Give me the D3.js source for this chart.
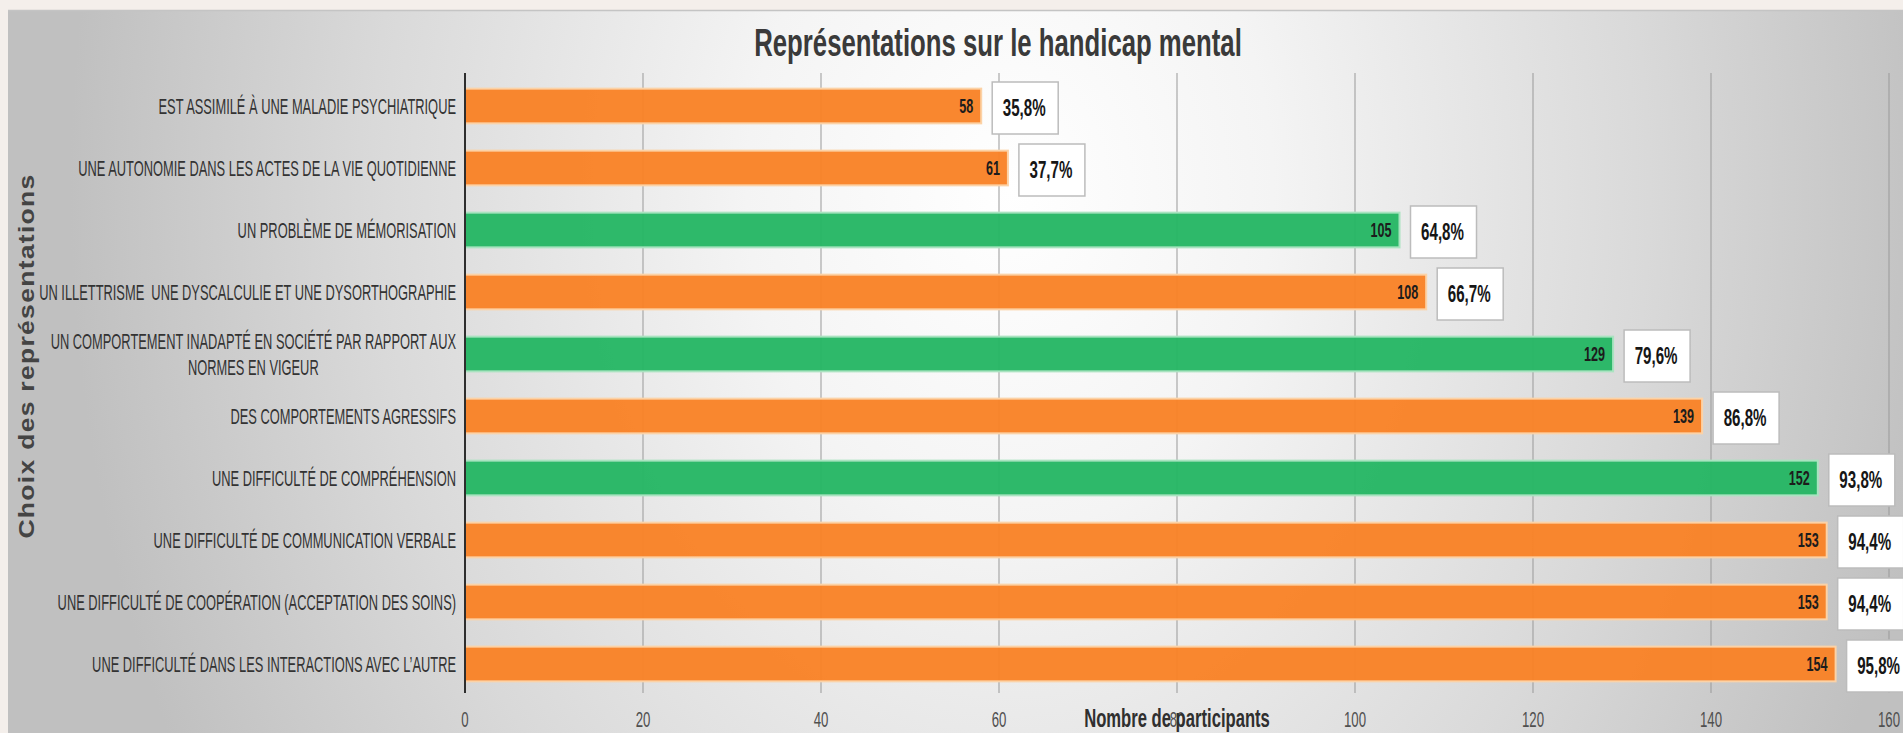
<!DOCTYPE html>
<html>
<head>
<meta charset="utf-8">
<script src="https://cdn.jsdelivr.net/npm/d3@7"></script>
<style>
  html, body { margin: 0; padding: 0; background: #f4efeb; overflow: hidden; }
  svg { display: block; }
  text { font-family: 'Liberation Sans', Arial, sans-serif; white-space: pre; }
</style>
</head>
<body>
<svg id="chart"></svg>
<script>
// data
const categories = [
  'EST ASSIMILÉ À UNE MALADIE PSYCHIATRIQUE',
  'UNE AUTONOMIE DANS LES ACTES DE LA VIE QUOTIDIENNE',
  'UN PROBLÈME DE MÉMORISATION',
  'UN ILLETTRISME  UNE DYSCALCULIE ET UNE DYSORTHOGRAPHIE',
  'UN COMPORTEMENT INADAPTÉ EN SOCIÉTÉ PAR RAPPORT AUX\nNORMES EN VIGEUR',
  'DES COMPORTEMENTS AGRESSIFS',
  'UNE DIFFICULTÉ DE COMPRÉHENSION',
  'UNE DIFFICULTÉ DE COMMUNICATION VERBALE',
  'UNE DIFFICULTÉ DE COOPÉRATION (ACCEPTATION DES SOINS)',
  'UNE DIFFICULTÉ DANS LES INTERACTIONS AVEC L\u2019AUTRE'
];
const participants = [58, 61, 105, 108, 129, 139, 152, 153, 153, 154];
const percentLabels = ['35,8%', '37,7%', '64,8%', '66,7%', '79,6%', '86,8%', '93,8%', '94,4%', '94,4%', '95,8%'];
const highlighted = [0, 0, 1, 0, 1, 0, 1, 0, 0, 0];
const xTicks = [0, 20, 40, 60, 80, 100, 120, 140, 160];

const titleText = 'Représentations sur le handicap mental';
const xTitle = 'Nombre de participants';
const yTitle = 'Choix des représentations';

const W = 1903, H = 733;
const SQ = 0.66;   // the picture is squeezed horizontally
const margin = { top: 75, bottom: 38, left: 465, right: 14 };

const svg = d3.select('#chart').attr('width', W).attr('height', H);

// background panel
const defs = svg.append('defs');
const grad = defs.append('radialGradient')
    .attr('id', 'panelGrad')
    .attr('gradientUnits', 'userSpaceOnUse')
    .attr('cx', 1010).attr('cy', 190).attr('r', 940)
    .attr('gradientTransform', 'translate(1010,190) scale(1,1.3) translate(-1010,-190)');
grad.append('stop').attr('offset', 0).attr('stop-color', '#ffffff');
grad.append('stop').attr('offset', 0.28).attr('stop-color', '#f4f4f4');
grad.append('stop').attr('offset', 0.68).attr('stop-color', '#d9d9d9');
grad.append('stop').attr('offset', 1).attr('stop-color', '#c0c0c0');

svg.append('rect')
    .attr('x', 8).attr('y', 10)
    .attr('width', W - 8).attr('height', H - 10)
    .attr('fill', 'url(#panelGrad)');
svg.append('line')
    .attr('x1', 8).attr('x2', W).attr('y1', 10.5).attr('y2', 10.5)
    .attr('stroke', '#c4c4c4').attr('stroke-width', 1.5);

// scales
const xScale = d3.scaleLinear()
    .domain([0, 160])
    .range([margin.left, W - margin.right]);

const yScale = d3.scaleBand()
    .domain(categories)
    .range([margin.top, H - margin.bottom])
    .paddingInner(0.44)
    .paddingOuter(0.22);

const colour = d3.scaleOrdinal().domain([0, 1]).range(['#f98226', '#25b664']);
const edge = d3.scaleOrdinal().domain([0, 1]).range(['#fcd2a6', '#a9e3c0']);

const data = categories.map((c, i) => ({
  cat: c, value: participants[i], pct: percentLabels[i], hl: highlighted[i]
}));

const chart = svg.append('g');

// grid lines
const gridTop = yScale.range()[0] - 2, gridBottom = yScale.range()[1] - 2;
chart.append('g').selectAll('line')
    .data(xTicks.slice(1))
    .join('line')
    .attr('x1', d => xScale(d)).attr('x2', d => xScale(d))
    .attr('y1', gridTop).attr('y2', gridBottom)
    .attr('stroke', '#999999').attr('stroke-width', 1);

// bars
chart.append('g').selectAll('rect')
    .data(data)
    .join('rect')
    .attr('x', xScale(0))
    .attr('y', d => yScale(d.cat))
    .attr('width', d => xScale(d.value) - xScale(0))
    .attr('height', yScale.bandwidth())
    .attr('fill', d => colour(d.hl))
    .attr('fill-opacity', 0.96)
    .attr('stroke', d => edge(d.hl))
    .attr('stroke-width', 2);

// axis line at zero
chart.append('line')
    .attr('x1', xScale(0)).attr('x2', xScale(0))
    .attr('y1', gridTop).attr('y2', gridBottom)
    .attr('stroke', '#2e2e2e').attr('stroke-width', 2);

// squeezed text helper
function sqText(g, x, y, str, sq = SQ) {
  return g.append('text')
      .attr('transform', `translate(${x},${y}) scale(${sq},1)`)
      .text(str);
}

// value labels inside bars
data.forEach(d => {
  sqText(chart, xScale(d.value) - 8, yScale(d.cat) + yScale.bandwidth() / 2, d.value, 0.6)
      .attr('text-anchor', 'end')
      .attr('dominant-baseline', 'central')
      .attr('font-size', 21)
      .attr('font-weight', 'bold')
      .attr('fill', '#1c1c1c');
});

// percentage boxes
const boxW = 66, boxH = 52;
data.forEach(d => {
  const bx = xScale(d.value) + 11;
  const cy = yScale(d.cat) + yScale.bandwidth() / 2 + 2;
  chart.append('rect')
      .attr('x', bx).attr('y', cy - boxH / 2)
      .attr('width', boxW).attr('height', boxH)
      .attr('fill', '#ffffff')
      .attr('stroke', '#bcbcbc').attr('stroke-width', 1.5);
  sqText(chart, bx + 32, cy, d.pct, 0.63)
      .attr('text-anchor', 'middle')
      .attr('dominant-baseline', 'central')
      .attr('font-size', 24)
      .attr('font-weight', 'bold')
      .attr('fill', '#161616');
});

// category labels
const catSq = 0.572;
const catG = chart.append('g');
data.forEach(d => {
  const lines = d.cat.split('\n');
  const cy = yScale(d.cat) + yScale.bandwidth() / 2;
  const lh = 26;
  const texts = lines.map((ln, k) =>
    sqText(catG, 0, cy + (k - (lines.length - 1) / 2) * lh, ln, catSq)
        .attr('text-anchor', 'middle')
        .attr('dominant-baseline', 'central')
        .attr('font-size', 22.5)
        .attr('fill', '#333333'));
  const maxW = d3.max(texts, t => t.node().getComputedTextLength()) * catSq;
  const cx = xScale(0) - 9 - maxW / 2;
  texts.forEach((t, k) =>
    t.attr('transform', `translate(${cx},${cy + (k - (lines.length - 1) / 2) * lh}) scale(${catSq},1)`));
});

// x tick labels
xTicks.forEach(t => {
  sqText(chart, xScale(t), 720, t, 0.6)
      .attr('text-anchor', 'middle')
      .attr('dominant-baseline', 'central')
      .attr('font-size', 22)
      .attr('fill', '#505050');
});

// axis titles
sqText(chart, (xScale.range()[0] + xScale.range()[1]) / 2, 718, xTitle, 0.64)
    .attr('text-anchor', 'middle')
    .attr('dominant-baseline', 'central')
    .attr('font-size', 26)
    .attr('font-weight', 'bold')
    .attr('fill', '#2f2f2f');

svg.append('text')
    .attr('transform', `translate(26,356) scale(0.8,1) rotate(-90)`)
    .attr('text-anchor', 'middle')
    .attr('dominant-baseline', 'central')
    .attr('font-size', 26.5)
    .attr('letter-spacing', 1.3)
    .attr('font-weight', 'bold')
    .attr('fill', '#444444')
    .text(yTitle);

// title
sqText(svg, 998, 56, titleText)
    .attr('text-anchor', 'middle')
    .attr('font-size', 39)
    .attr('font-weight', 'bold')
    .attr('fill', '#3a3a3a');
</script>
</body>
</html>
